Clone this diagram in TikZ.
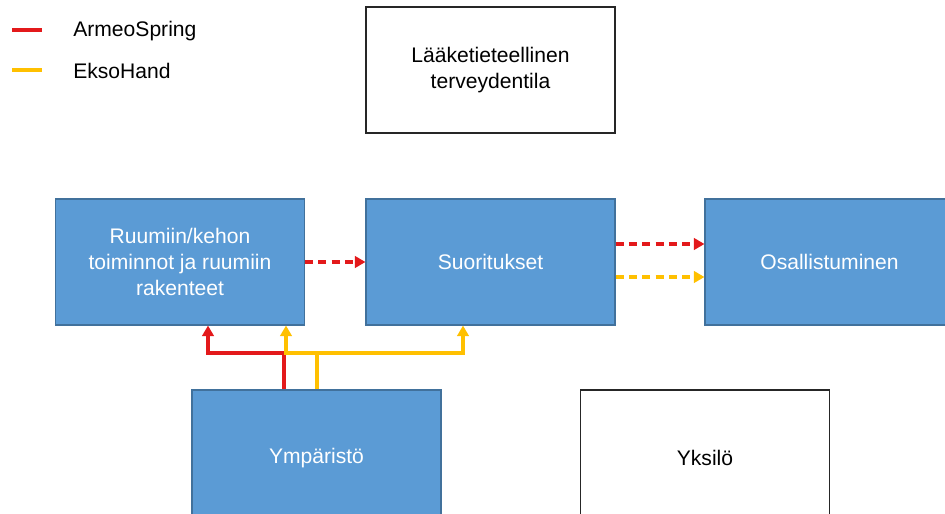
\documentclass[tikz,border=0pt]{standalone}
\usepackage{fontspec}
\setmainfont{Liberation Sans}
\usetikzlibrary{arrows.meta}
\definecolor{boxblue}{HTML}{5B9BD5}
\definecolor{boxedge}{HTML}{41719C}
\definecolor{armeo}{HTML}{E3191B}
\definecolor{ekso}{HTML}{FFC000}
\tikzset{
  bluebox/.style={draw=boxedge, line width=0.6pt, fill=boxblue, text=white, minimum width=249*0.02cm, minimum height=126*0.02cm, align=center, inner sep=0pt, font=\fontsize{12}{15}\selectfont},
  whitebox/.style={bluebox, draw=black!85, fill=white, text=black},
  link/.style={line width=2.1pt, -{Triangle[length=6pt,width=6.5pt]}},
  armeoline/.style={link, draw=armeo},
  eksoline/.style={link, draw=ekso},
  dashline/.style={dash pattern=on 4.6pt off 3pt},
  legline/.style={line width=2.1pt},
  legtext/.style={anchor=west, inner sep=0pt, font=\fontsize{12}{15}\selectfont}
}
\begin{document}
\begin{tikzpicture}[x=0.02cm, y=-0.02cm]
\useasboundingbox (0,0) rectangle (945,513);
\clip (0,0) rectangle (945,513);
% legend
\coordinate (la1) at (12,30); \coordinate (la2) at (42,30);
\coordinate (le1) at (12,70); \coordinate (le2) at (42,70);
\draw[legline, armeo] (la1) -- (la2);
\draw[legline, ekso] (le1) -- (le2);
\node[legtext] (lat) at (73,31) {ArmeoSpring};
\node[legtext] (let) at (73,71) {EksoHand};
% boxes
\node[whitebox] (health) at (490.5,70) {Lääketieteellinen\\terveydentila};
\node[bluebox] (body) at (180,262) {Ruumiin/kehon\\toiminnot ja ruumiin\\rakenteet};
\node[bluebox] (act) at (490.5,262) {Suoritukset};
\node[bluebox] (part) at (829.5,262) {Osallistuminen};
\node[bluebox, minimum height=136*0.02cm] (env) at (316.5,458) {Ympäristö};
\node[whitebox, minimum height=136*0.02cm] (pers) at (705,458) {Yksilö};
% dashed arrows
\draw[armeoline, dashline] (body.east) -- (act.west);
\draw[armeoline, dashline] (act.east |- 0,244) -- (part.west |- 0,244);
\draw[eksoline, dashline] (act.east |- 0,277) -- (part.west |- 0,277);
% solid connectors from environment
\coordinate (rb) at (284,353);
\coordinate (yb) at (317,353);
\draw[armeoline] (env.north -| rb) -- (rb) -| (body.south -| 208,0);
\draw[eksoline] (env.north -| yb) -- (yb) -| (body.south -| 286,0);
\draw[eksoline] (yb) -| (act.south -| 463,0);
\end{tikzpicture}
\end{document}
